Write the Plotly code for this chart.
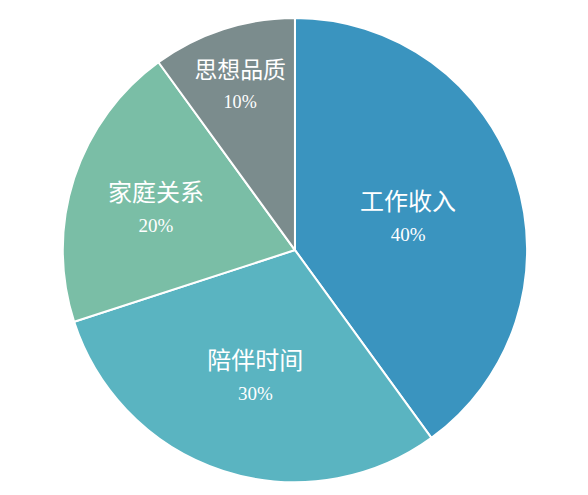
import plotly.graph_objects as go

labels = ["工作收入", "陪伴时间", "家庭关系", "思想品质"]
values = [40, 30, 20, 10]
colors = ["#3a94bf", "#5ab4c1", "#7abea6", "#7b8c8d"]

fig = go.Figure(go.Pie(
    labels=labels,
    values=values,
    sort=False,
    direction="clockwise",
    rotation=0,
    marker=dict(colors=colors, line=dict(color="white", width=2)),
    texttemplate="%{label}<br><span style='font-family:Liberation Serif;font-size:19px'>%{percent:.0%}</span>",
    textposition="inside",
    insidetextorientation="horizontal",
    textfont=dict(family="Noto Sans CJK SC", size=24, color="white"),
    hoverinfo="label+percent",
    domain=dict(x=[0.093, 0.883], y=[0.042, 0.980]),
))
fig.update_layout(
    width=588, height=495,
    margin=dict(l=0, r=0, t=0, b=0),
    paper_bgcolor="white",
    showlegend=False,
)
fig.write_html("out.html")
